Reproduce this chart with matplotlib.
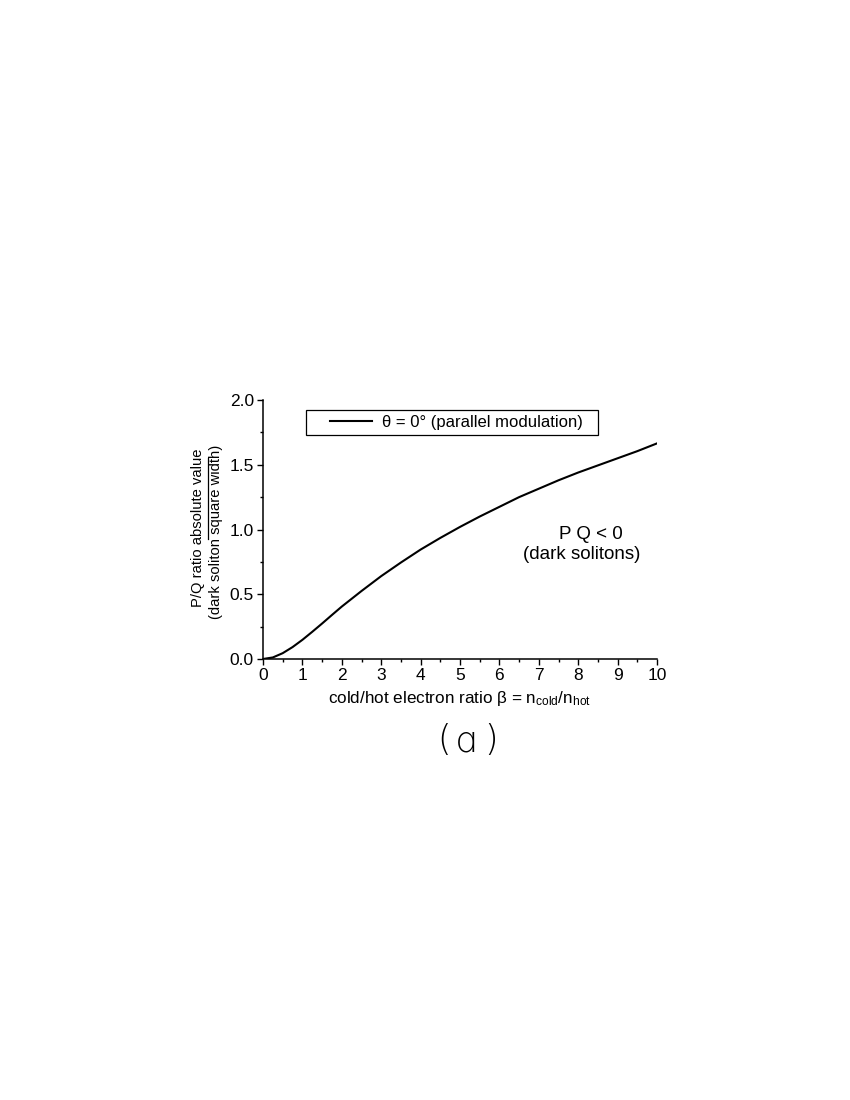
import matplotlib
matplotlib.use("Agg")
import matplotlib.pyplot as plt
from matplotlib.lines import Line2D
from matplotlib.patches import Rectangle
from matplotlib.ticker import MultipleLocator

plt.rcParams['font.family'] = ['Liberation Sans', 'DejaVu Sans']
plt.rcParams['mathtext.fontset'] = 'custom'
plt.rcParams['mathtext.rm'] = 'Liberation Sans'
plt.rcParams['mathtext.it'] = 'Liberation Sans'

# curve
beta = [0, 0.25, 0.5, 0.75, 1, 1.25, 1.5, 1.75, 2, 2.5, 3, 3.5, 4, 4.5, 5,
        5.5, 6, 6.5, 7, 7.5, 8, 8.5, 9, 9.5, 10]
pq = [0, 0.012, 0.045, 0.092, 0.148, 0.21, 0.274, 0.34, 0.405, 0.525, 0.64,
      0.745, 0.845, 0.935, 1.02, 1.10, 1.175, 1.25, 1.315, 1.38, 1.44, 1.495,
      1.55, 1.605, 1.665]

fig = plt.figure(figsize=(8.5, 11), dpi=100)
ax = fig.add_axes([263/850, 1 - 659/1100, 394/850, 259/1100])

ax.plot(beta, pq, color='black', lw=1.5, label=u'\u03b8 = 0\u00b0 (parallel modulation)')

ax.set_xlim(0, 10)
ax.set_ylim(0, 2.0)
ax.xaxis.set_major_locator(MultipleLocator(1))
ax.xaxis.set_minor_locator(MultipleLocator(0.5))
ax.yaxis.set_major_locator(MultipleLocator(0.5))
ax.yaxis.set_minor_locator(MultipleLocator(0.25))
ax.set_yticklabels(['%.1f' % v for v in ax.get_yticks()])

for s in ['top', 'right']:
    ax.spines[s].set_visible(False)
for s in ['left', 'bottom']:
    ax.spines[s].set_linewidth(1.1)

ax.tick_params(which='major', direction='out', length=4.5, width=1, labelsize=12.5, pad=2)
ax.tick_params(which='minor', direction='out', length=2.5, width=1)

# legend box drawn by hand so the padding matches
ax.add_patch(Rectangle((0.109, 0.865), 0.741, 0.0965, transform=ax.transAxes,
                       facecolor='white', edgecolor='black', lw=0.9, zorder=3))
leg = ax.legend(loc='center left', bbox_to_anchor=(0.170, 0.913), fontsize=12,
                frameon=False, handlelength=2.5, borderpad=0, borderaxespad=0,
                handletextpad=0.6)
leg.set_zorder(4)

ax.text(0.832, 0.479, 'P Q < 0', transform=ax.transAxes, ha='center', va='center', fontsize=13.5)
ax.text(0.810, 0.402, '(dark solitons)', transform=ax.transAxes, ha='center', va='center', fontsize=13.5)

ax.set_xlabel(r'cold/hot electron ratio $\beta$ = n$_{\mathrm{cold}}$/n$_{\mathrm{hot}}$',
              fontsize=12.3, labelpad=4)

# two-line y label with the bar between the lines
fig.text(198/850, 1 - 528/1100, 'P/Q ratio absolute value', rotation=90,
         ha='center', va='center', fontsize=10.6)
fig.text(216/850, 1 - 532/1100, '(dark soliton square width)', rotation=90,
         ha='center', va='center', fontsize=10.6)
fig.add_artist(Line2D([207.5/850, 207.5/850], [1 - 539/1100, 1 - 458/1100],
                      color='black', lw=0.9))

# panel tag "( a )"
fig.text(444/850, 1 - 740/1100, '(', ha='center', va='center', fontsize=25,
         family=['DejaVu Sans'], fontweight='light')
fig.text(465/850, 1 - 742/1100, u'\u0251', ha='center', va='center', fontsize=26,
         family=['DejaVu Sans'], fontweight='light')
fig.text(491/850, 1 - 740/1100, ')', ha='center', va='center', fontsize=25,
         family=['DejaVu Sans'], fontweight='light')

fig.savefig('out.png', dpi=100)
